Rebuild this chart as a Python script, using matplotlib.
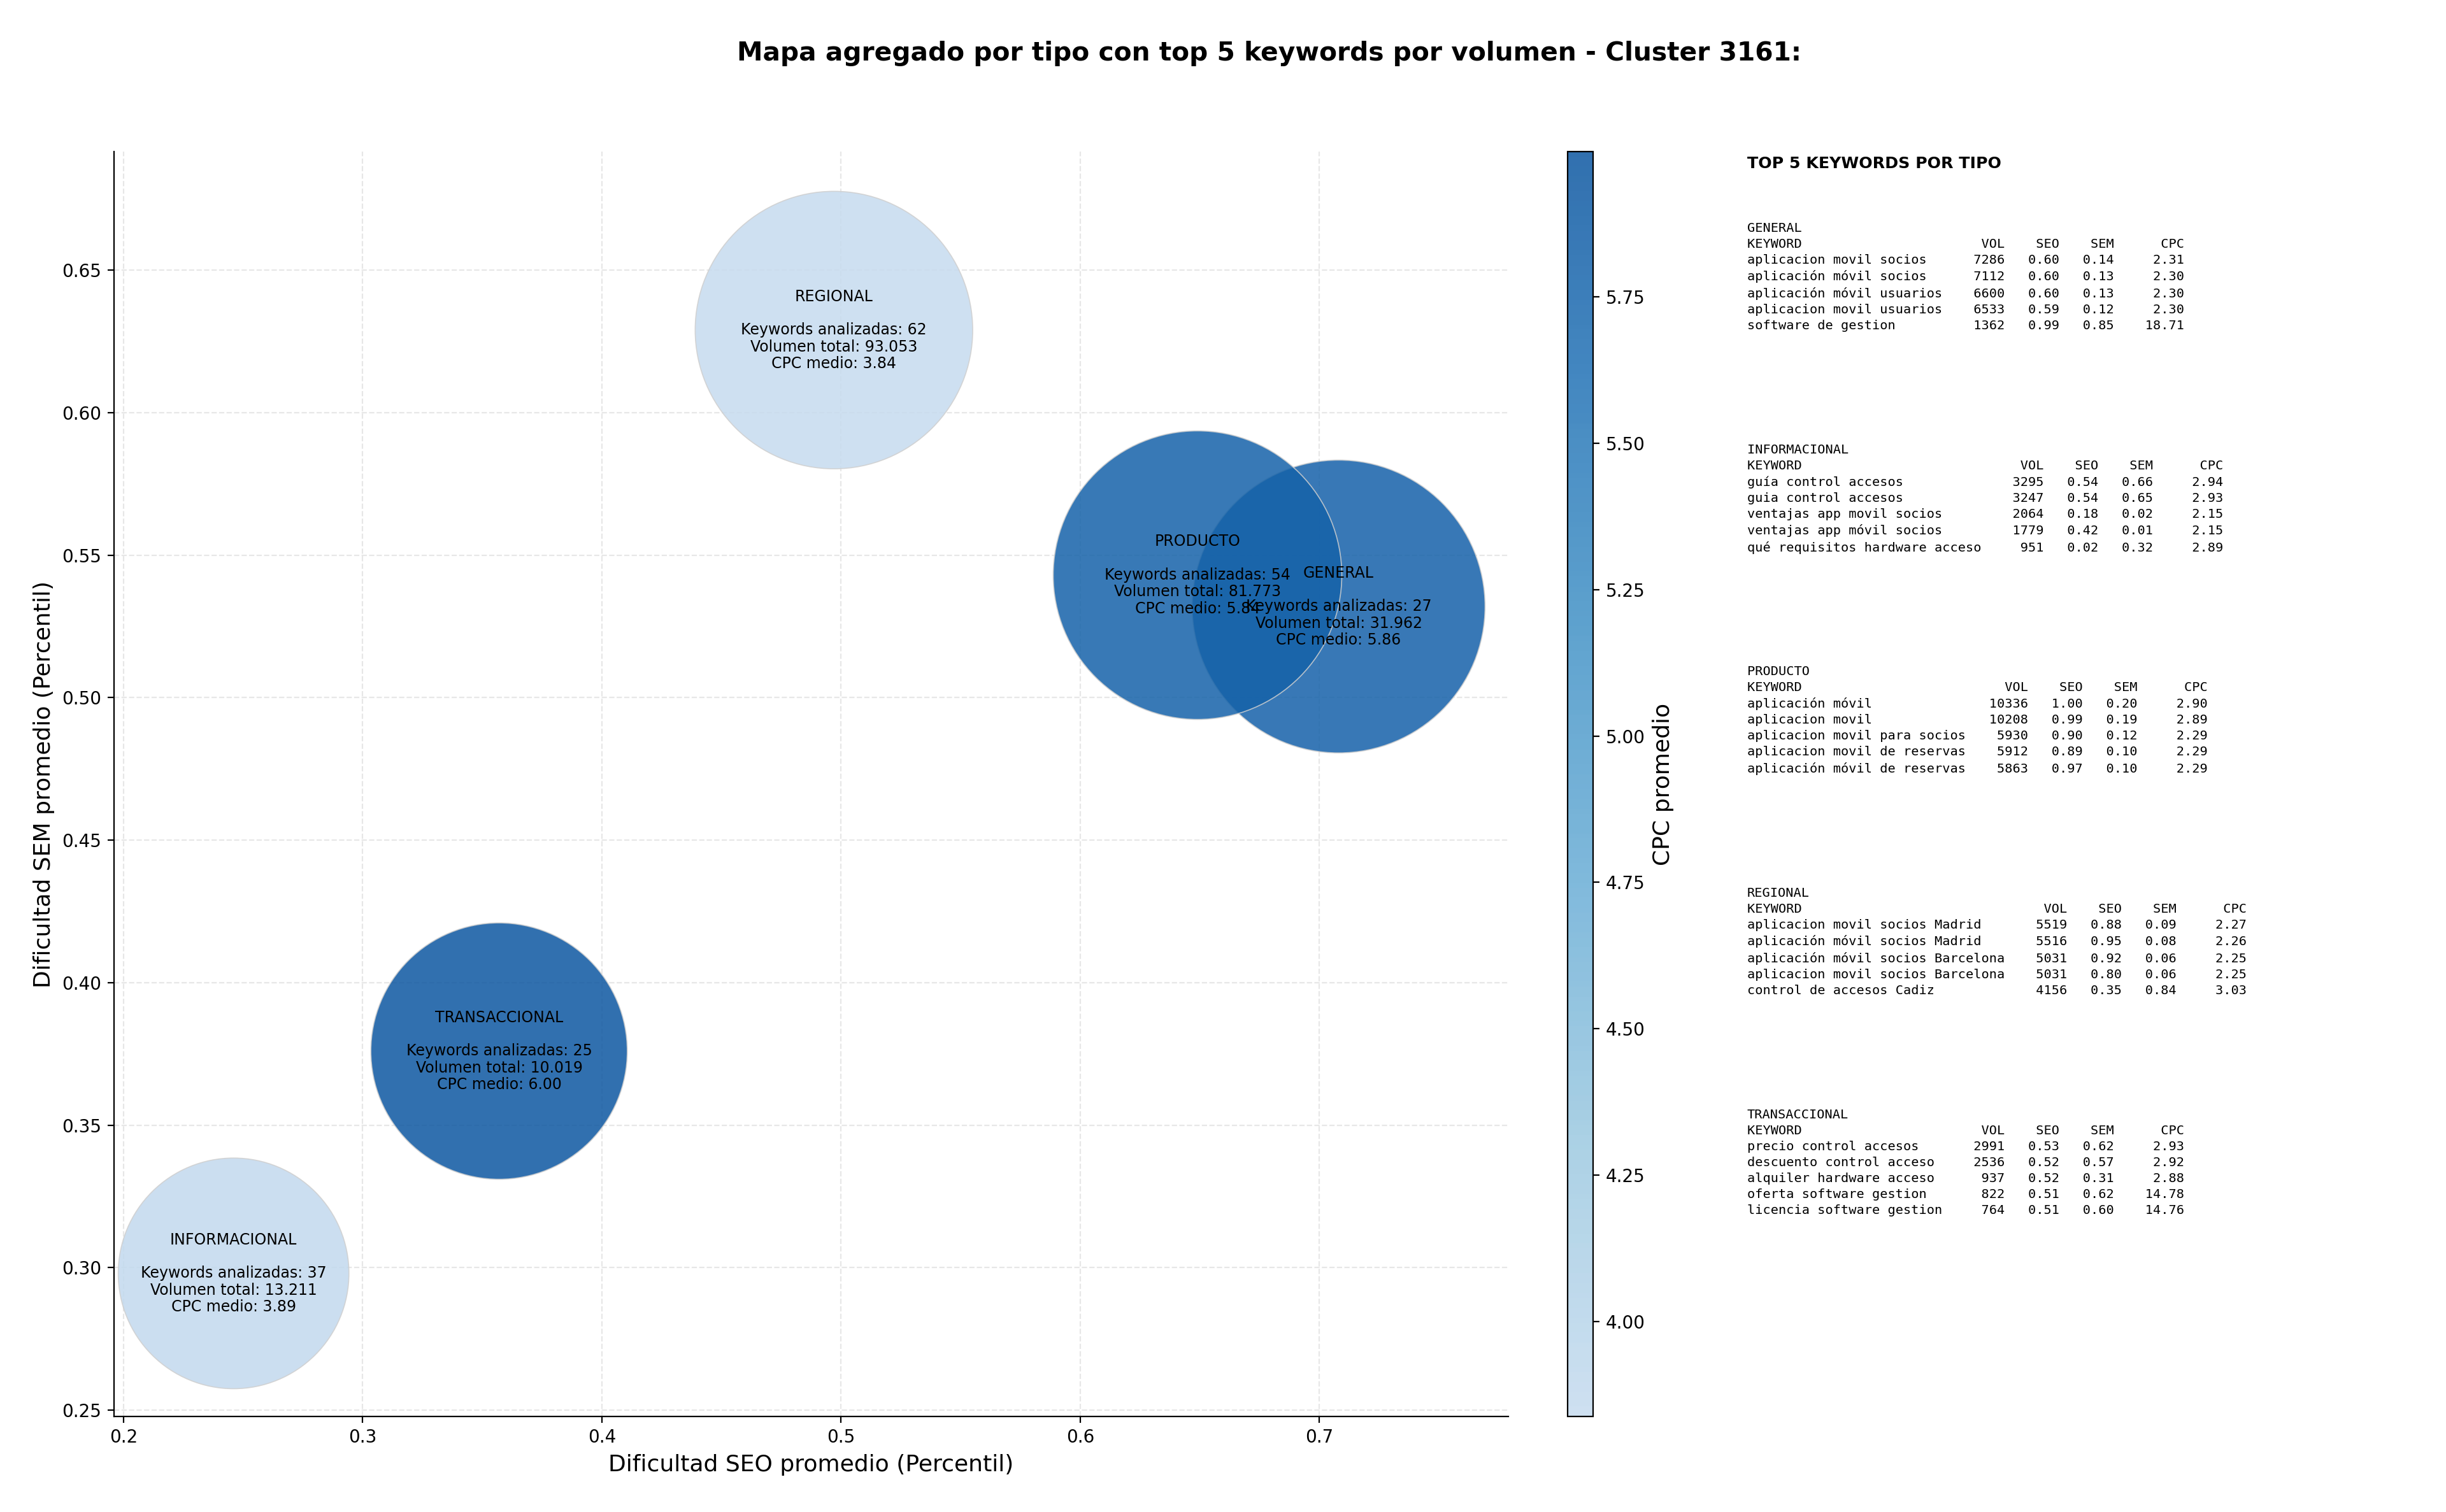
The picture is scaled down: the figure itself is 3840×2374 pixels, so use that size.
import numpy as np
import matplotlib.pyplot as plt
from matplotlib.colors import ListedColormap

# datos agregados por tipo
tipos = ["GENERAL", "INFORMACIONAL", "PRODUCTO", "REGIONAL", "TRANSACCIONAL"]
seo_medio = [0.708, 0.246, 0.649, 0.497, 0.357]
sem_medio = [0.532, 0.298, 0.543, 0.629, 0.376]
n_keywords = [27, 37, 54, 62, 25]
volumen_total = [31962, 13211, 81773, 93053, 10019]
cpc_medio = [5.862, 3.891, 5.841, 3.838, 5.998]

# top 5 keywords por tipo: (keyword, volumen, seo, sem, cpc)
top_general = [
    ("aplicacion movil socios", 7286, 0.60, 0.14, 2.31),
    ("aplicación móvil socios", 7112, 0.60, 0.13, 2.30),
    ("aplicación móvil usuarios", 6600, 0.60, 0.13, 2.30),
    ("aplicacion movil usuarios", 6533, 0.59, 0.12, 2.30),
    ("software de gestion", 1362, 0.99, 0.85, 18.71),
]
top_informacional = [
    ("guía control accesos", 3295, 0.54, 0.66, 2.94),
    ("guia control accesos", 3247, 0.54, 0.65, 2.93),
    ("ventajas app movil socios", 2064, 0.18, 0.02, 2.15),
    ("ventajas app móvil socios", 1779, 0.42, 0.01, 2.15),
    ("qué requisitos hardware acceso", 951, 0.02, 0.32, 2.89),
]
top_producto = [
    ("aplicación móvil", 10336, 1.00, 0.20, 2.90),
    ("aplicacion movil", 10208, 0.99, 0.19, 2.89),
    ("aplicacion movil para socios", 5930, 0.90, 0.12, 2.29),
    ("aplicacion movil de reservas", 5912, 0.89, 0.10, 2.29),
    ("aplicación móvil de reservas", 5863, 0.97, 0.10, 2.29),
]
top_regional = [
    ("aplicacion movil socios Madrid", 5519, 0.88, 0.09, 2.27),
    ("aplicación móvil socios Madrid", 5516, 0.95, 0.08, 2.26),
    ("aplicación móvil socios Barcelona", 5031, 0.92, 0.06, 2.25),
    ("aplicacion movil socios Barcelona", 5031, 0.80, 0.06, 2.25),
    ("control de accesos Cadiz", 4156, 0.35, 0.84, 3.03),
]
top_transaccional = [
    ("precio control accesos", 2991, 0.53, 0.62, 2.93),
    ("descuento control acceso", 2536, 0.52, 0.57, 2.92),
    ("alquiler hardware acceso", 937, 0.52, 0.31, 2.88),
    ("oferta software gestion", 822, 0.51, 0.62, 14.78),
    ("licencia software gestion", 764, 0.51, 0.60, 14.76),
]
tops = [top_general, top_informacional, top_producto, top_regional, top_transaccional]

# tamaño de burbuja (area en pt^2) tal como se ve en el grafico
bubble_area = [27400, 17000, 26600, 24600, 21000]

cmap = ListedColormap(plt.cm.Blues(np.linspace(0.25, 0.85, 256)))

fig = plt.figure(figsize=(19.2, 11.87), dpi=200)
ax = fig.add_axes([0.0466, 0.0632, 0.5701, 0.8365])
cax = fig.add_axes([0.6409, 0.0632, 0.0105, 0.8365])

sc = ax.scatter(seo_medio, sem_medio, s=bubble_area, c=cpc_medio, cmap=cmap,
                alpha=0.85, edgecolors="#cfcfcf", linewidths=0.6, zorder=2)

for i, tipo in enumerate(tipos):
    vol = f"{volumen_total[i]:,}".replace(",", ".")
    label = (f"{tipo}\n\nKeywords analizadas: {n_keywords[i]}\n"
             f"Volumen total: {vol}\nCPC medio: {cpc_medio[i]:.2f}")
    ax.text(seo_medio[i], sem_medio[i], label, ha="center", va="center",
            multialignment="center", fontsize=8.5, linespacing=1.12, zorder=3)

ax.set_xlim(0.196, 0.779)
ax.set_ylim(0.2478, 0.6916)
ax.set_xlabel("Dificultad SEO promedio (Percentil)", fontsize=13)
ax.set_ylabel("Dificultad SEM promedio (Percentil)", fontsize=13)
ax.grid(True, linestyle="--", alpha=0.3, zorder=0)
ax.set_axisbelow(True)
ax.spines["top"].set_visible(False)
ax.spines["right"].set_visible(False)

cb = fig.colorbar(sc, cax=cax)
cb.set_label("CPC promedio", fontsize=13)

fig.suptitle("Mapa agregado por tipo con top 5 keywords por volumen - Cluster 3161:",
             fontsize=14.7, fontweight="bold", x=0.519, y=0.973)

# panel de texto con el top 5
fig.text(0.7143, 0.897, "TOP 5 KEYWORDS POR TIPO", fontsize=9.1, fontweight="bold", va="top")
for j, tipo in enumerate(tipos):
    rows = tops[j]
    w = max(len(r[0]) for r in rows)
    lines = [tipo, f"{'KEYWORD':<{w}}{'VOL':>8}{'SEO':>7}{'SEM':>7}{'CPC':>9}"]
    for kw, v, s1, s2, c in rows:
        lines.append(f"{kw:<{w}}{v:>8}{s1:>7.2f}{s2:>7.2f}{c:>9.2f}")
    fig.text(0.7143, 0.853 - j * 0.1466, "\n".join(lines), family="DejaVu Sans Mono",
             fontsize=7.3, va="top", linespacing=1.4)

fig.savefig("out.png", dpi=200)
